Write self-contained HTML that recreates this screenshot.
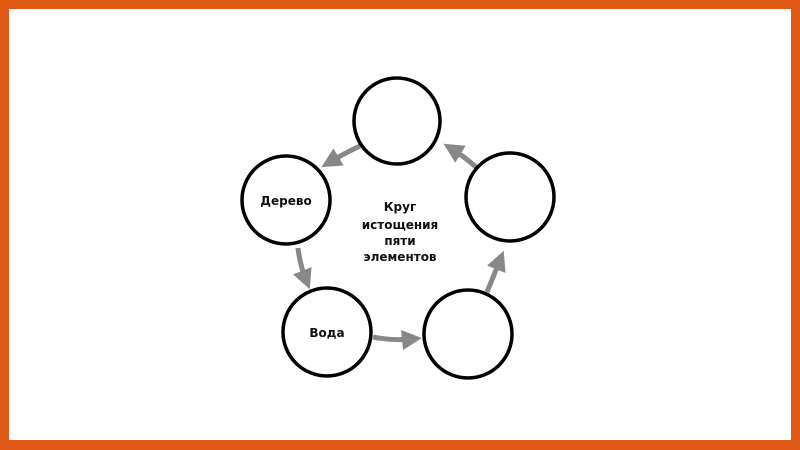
<!DOCTYPE html>
<html><head><style>
html,body{margin:0;padding:0;}
body{width:800px;height:450px;overflow:hidden;background:#fff;}
svg{display:block;}
text{font-family:"DejaVu Sans","Liberation Sans",sans-serif;font-size:12px;font-weight:bold;fill:#111;}
</style></head><body>
<svg width="800" height="450" viewBox="0 0 800 450">
<rect x="0" y="0" width="800" height="450" fill="#e15a18"/>
<rect x="9" y="9" width="782" height="431" fill="#fff"/>
<defs>
<marker id="a" markerWidth="4" markerHeight="4" refX="2" refY="2" orient="auto" markerUnits="strokeWidth">
<path d="M0,0 L4,2 L0,4 Z" fill="#888"/>
</marker>
</defs>
<g stroke="#888" stroke-width="5" fill="none" marker-end="url(#a)">
<path d="M360,146 Q345,153 330,162"/>
<path d="M298,248 Q300,265 306,280"/>
<path d="M373,337 Q392,341 412,339"/>
<path d="M487,292 Q494,275 500,260"/>
<path d="M477,168 Q465,157 452,149"/>
</g>
<g stroke="#000" stroke-width="3.5" fill="#fff">
<circle cx="397" cy="121" r="43"/>
<circle cx="286" cy="200" r="44"/>
<circle cx="510" cy="197" r="44"/>
<circle cx="327" cy="332" r="44"/>
<circle cx="468" cy="334" r="44"/>
</g>
<text x="286" y="205" text-anchor="middle">Дерево</text>
<text x="327" y="337" text-anchor="middle">Вода</text>
<g text-anchor="middle">
<text x="400" y="211">Круг</text>
<text x="400" y="229">истощения</text>
<text x="400" y="245">пяти</text>
<text x="400" y="261">элементов</text>
</g>
</svg>
</body></html>
